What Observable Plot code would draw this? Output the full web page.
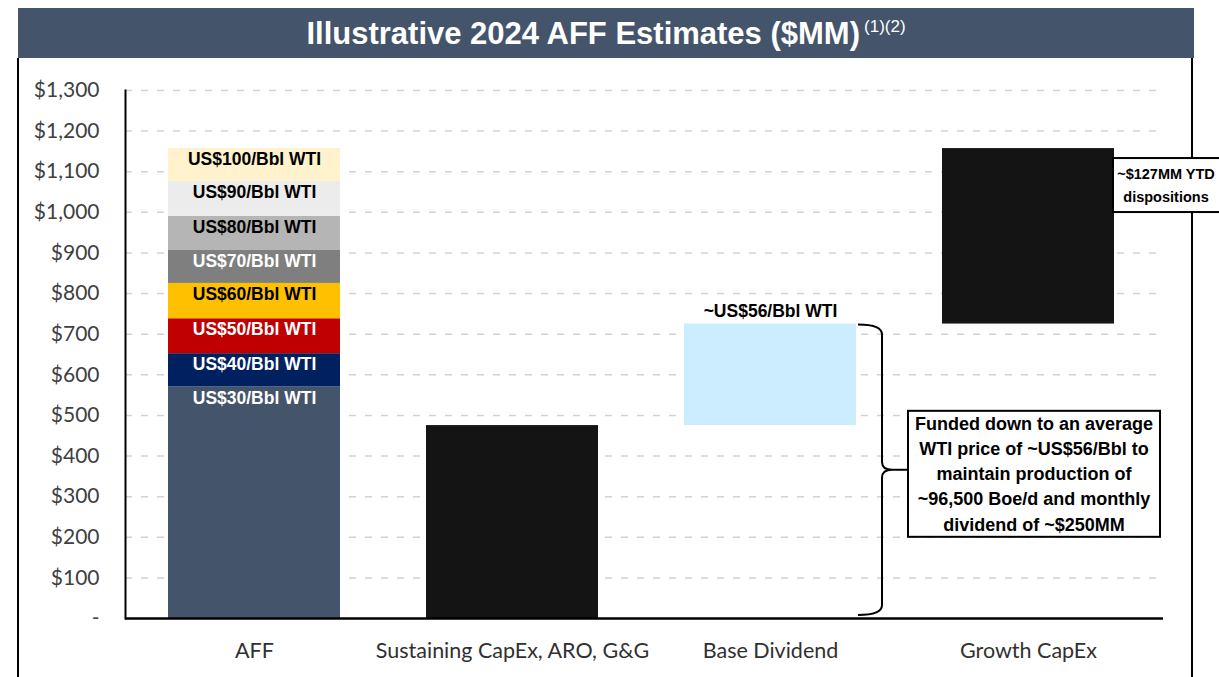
<!DOCTYPE html>
<html>
<head>
<meta charset="utf-8">
<script src="https://cdn.jsdelivr.net/npm/d3@7"></script>
<script src="https://cdn.jsdelivr.net/npm/@observablehq/plot@0.6"></script>
<style>
  html, body { margin: 0; padding: 0; width: 1219px; height: 677px; overflow: hidden; background: #fff; }
  #frame { position: absolute; left: 17px; top: 58px; width: 1172px; height: 640px;
           border-left: 2px solid #000; border-right: 2px solid #000; }
  #title { position: absolute; left: 18px; top: 8px; width: 1176px; height: 50px; background: #44546A;
           color: #fff; text-align: center; line-height: 52px; white-space: nowrap;
           font-family: "Liberation Sans Narrow", "Arial Narrow", sans-serif; font-weight: bold; font-size: 31px; }
  #title sup { font-weight: normal; font-size: 17px; vertical-align: 12px; line-height: 0; margin-left: 4px; }
  #chart { position: absolute; left: 0; top: 58px; }
</style>
</head>
<body>
<div id="frame"></div>
<div id="title">Illustrative 2024 AFF Estimates ($MM)<sup>(1)(2)</sup></div>
<div id="chart"></div>
<script>
// ---- data ----
const categories = ["AFF", "Sustaining CapEx, ARO, G&G", "Base Dividend", "Growth CapEx"];
const wtiLabels = ["US$30/Bbl WTI", "US$40/Bbl WTI", "US$50/Bbl WTI", "US$60/Bbl WTI",
                   "US$70/Bbl WTI", "US$80/Bbl WTI", "US$90/Bbl WTI", "US$100/Bbl WTI"];
const affTops = [570, 652, 738, 825, 906, 990, 1076, 1157];
const affColors = ["#44546A", "#002060", "#C00000", "#FFC000", "#7F7F7F", "#B5B5B5", "#ECECEC", "#FFF2CC"];
const affLabelColors = ["#ffffff", "#ffffff", "#ffffff", "#000000", "#ffffff", "#000000", "#000000", "#000000"];
const spendCategories = ["Sustaining CapEx, ARO, G&G", "Base Dividend", "Growth CapEx"];
const spendFrom = [0, 475, 725];
const spendTo = [475, 725, 1157];
const spendColors = ["#141414", "#CCECFF", "#141414"];
const yTicks = d3.range(0, 1301, 100);
const dividendNote = "~US$56/Bbl WTI";
const fundedNote = ["Funded down to an average", "WTI price of ~US$56/Bbl to", "maintain production of",
                    "~96,500 Boe/d and monthly", "dividend of ~$250MM"];
const dispositionNote = ["~$127MM YTD", "dispositions"];

// ---- tables built from the arrays ----
const affData = affTops.map((top, i) => ({
  category: "AFF", y1: i === 0 ? 0 : affTops[i - 1], y2: top,
  fill: affColors[i], label: wtiLabels[i], labelColor: affLabelColors[i]
}));
const spendData = spendCategories.map((c, i) => ({
  category: c, y1: spendFrom[i], y2: spendTo[i], fill: spendColors[i]
}));

const NARROW = "'Liberation Sans Narrow', 'Arial Narrow', 'Liberation Sans', Arial, sans-serif";
const BODY = "Lato, 'Open Sans', sans-serif";

const chart = Plot.plot({
  width: 1219,
  height: 619,
  marginLeft: 125,
  marginRight: 56,
  marginTop: 32,
  marginBottom: 59,
  style: { background: "transparent", overflow: "visible" },
  x: { domain: categories, paddingInner: 0.333, paddingOuter: 0.178, align: 0.467, label: null },
  y: { domain: [0, 1300], label: null },
  color: { type: "identity" },
  marks: [
    Plot.ruleY(yTicks.filter(d => d > 0), { stroke: "#d2d2d2", strokeWidth: 1.5, strokeDasharray: "7,9" }),
    Plot.barY(affData, { x: "category", y1: "y1", y2: "y2", fill: "fill", inset: 0 }),
    Plot.barY(spendData, { x: "category", y1: "y1", y2: "y2", fill: "fill", inset: 0 }),
    Plot.text(affData, { x: "category", y: "y2", text: "label", fill: "labelColor", dy: 11,
      fontFamily: NARROW, fontWeight: "bold", fontSize: 17.5 }),
    Plot.text([dividendNote], { x: () => "Base Dividend", y: () => spendTo[1], text: d => d, dy: -13,
      fontFamily: NARROW, fontWeight: "bold", fontSize: 17.5, fill: "#000" }),
    Plot.frame({ anchor: "left", stroke: "#000", strokeWidth: 2 }),
    Plot.ruleY([0], { stroke: "#000", strokeWidth: 2.5 }),
    Plot.axisY({ ticks: yTicks, tickSize: 0, tickPadding: 26, fontSize: 21, fontFamily: BODY, color: "#404040",
      tickFormat: d => d === 0 ? "-" : "$" + d3.format(",")(d), label: null }),
    Plot.axisX({ tickSize: 0, tickPadding: 24, fontSize: 21.5, fontFamily: BODY, color: "#303030", label: null })
  ]
});
document.getElementById("chart").appendChild(chart);

// ---- annotations positioned through the chart's own scales ----
const sx = chart.scale("x"), sy = chart.scale("y");
const bw = sx.bandwidth;
const g = d3.select(chart).append("g").attr("class", "annotations");

// curly brace spanning the funded range (0 -> top of base dividend)
const divRight = sx.apply("Base Dividend") + bw;
const bTop = sy.apply(spendTo[1]) + 1, bBot = sy.apply(0) - 3, bMid = (bTop + bBot) / 2;
const bx0 = divRight + 2, bx1 = bx0 + 24, btip = bx0 + 34;
g.append("path")
  .attr("d", `M${bx0},${bTop} Q${bx1},${bTop} ${bx1},${bTop + 10} L${bx1},${bMid - 8} Q${bx1},${bMid} ${btip},${bMid}` +
             ` M${btip},${bMid} Q${bx1},${bMid} ${bx1},${bMid + 8} L${bx1},${bBot - 10} Q${bx1},${bBot} ${bx0},${bBot}`)
  .attr("fill", "none").attr("stroke", "#000").attr("stroke-width", 2);

// funded box
const fundedCenterValue = 355;
const boxW = 252, boxH = 126;
const boxCx = sx.apply("Growth CapEx") + bw / 2 + 6;
const boxCy = sy.apply(fundedCenterValue);
g.append("line").attr("x1", btip).attr("x2", boxCx - boxW / 2).attr("y1", bMid).attr("y2", bMid)
  .attr("stroke", "#000").attr("stroke-width", 2);
g.append("rect").attr("x", boxCx - boxW / 2).attr("y", boxCy - boxH / 2).attr("width", boxW).attr("height", boxH)
  .attr("fill", "#fff").attr("stroke", "#000").attr("stroke-width", 2);
const lh = 25.3;
fundedNote.forEach((t, i) => {
  g.append("text").attr("x", boxCx).attr("y", boxCy + (i - 2) * lh).attr("dy", "0.35em")
    .attr("text-anchor", "middle").attr("font-family", NARROW).attr("font-weight", "bold")
    .attr("font-size", 18).attr("fill", "#000").text(t);
});

// dispositions box attached to growth capex bar (runs past the right edge as in the source)
const dispCenterValue = 1066;
const dLeft = sx.apply("Growth CapEx") + bw - 1;
const dW = 116, dH = 54;
const dCy = sy.apply(dispCenterValue);
const dTextX = dLeft + 53;
g.append("rect").attr("x", dLeft).attr("y", dCy - dH / 2).attr("width", dW).attr("height", dH)
  .attr("fill", "#fff").attr("stroke", "#000").attr("stroke-width", 2);
dispositionNote.forEach((t, i) => {
  g.append("text").attr("x", dTextX).attr("y", dCy + (i - 0.5) * 23).attr("dy", "0.35em")
    .attr("text-anchor", "middle").attr("font-family", NARROW).attr("font-weight", "bold")
    .attr("font-size", 14.5).attr("fill", "#000").text(t);
});
</script>
</body>
</html>
